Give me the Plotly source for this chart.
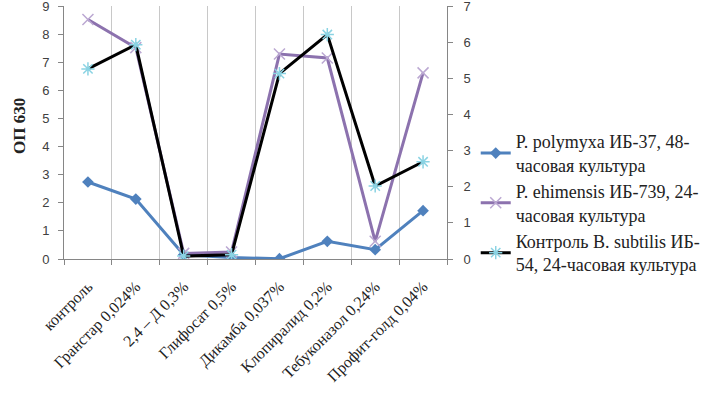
import plotly.graph_objects as go

categories = ["контроль", "Гранстар 0,024%", "2,4 – Д 0,3%", "Глифосат 0,5%",
              "Дикамба 0,037%", "Клопиралид 0,2%", "Тебуконазол 0,24%", "Профит-голд 0,04%"]

# left axis (ОП 630)
polymyxa = [2.74, 2.13, 0.15, 0.05, 0.01, 0.63, 0.33, 1.72]
ehimensis = [8.52, 7.52, 0.20, 0.25, 7.29, 7.15, 0.63, 6.62]
# right (secondary) axis
control = [5.26, 5.93, 0.08, 0.12, 5.13, 6.21, 2.02, 2.69]

names = ["P. polymyxa ИБ-37, 48-<br>часовая культура",
         "P. ehimensis ИБ-739, 24-<br>часовая культура",
         "Контроль B. subtilis ИБ-<br>54, 24-часовая культура"]

left_ticks = list(range(0, 10))
right_ticks = list(range(0, 8))

SERIF = "Liberation Serif"

fig = go.Figure()
fig.add_trace(go.Scatter(x=categories, y=polymyxa, name=names[0], mode="lines+markers",
                         line=dict(color="#4F81BD", width=3),
                         marker=dict(symbol="diamond", size=9, color="#4F81BD")))
fig.add_trace(go.Scatter(x=categories, y=ehimensis, name=names[1], mode="lines+markers",
                         line=dict(color="#8C72AE", width=3),
                         marker=dict(symbol="x-thin-open", size=11, color="#BBA8D2",
                                     line=dict(color="#BBA8D2", width=1.5))))
fig.add_trace(go.Scatter(x=categories, y=control, name=names[2], mode="lines+markers",
                         yaxis="y2",
                         line=dict(color="#000000", width=3),
                         marker=dict(symbol="asterisk-open", size=11, color="#8AD3E3",
                                     line=dict(color="#8AD3E3", width=1.5))))

axis_font = dict(family="Liberation Sans", size=13, color="#404040")
fig.update_layout(
    width=719, height=395,
    margin=dict(l=64, r=272, t=6, b=136, autoexpand=False),
    paper_bgcolor="white", plot_bgcolor="white",
    showlegend=True,
    legend=dict(x=1.075, xanchor="left", y=0.537, yanchor="top",
                font=dict(family=SERIF, size=18, color="#222222"),
                bgcolor="rgba(0,0,0,0)", itemwidth=30, tracegroupgap=6),
    xaxis=dict(type="category", categoryorder="array", categoryarray=categories,
               range=[-0.5, 7.5], tickson="boundaries", automargin=False,
               showgrid=True, gridcolor="#C8C8C8", gridwidth=1,
               showline=True, linecolor="#868686", linewidth=1,
               ticks="outside", ticklen=5, tickcolor="#868686",
               tickangle=-45, ticklabelstandoff=11,
               tickfont=dict(family=SERIF, size=16, color="#222222"),
               zeroline=False),
    yaxis=dict(range=[0, 9], tickvals=left_ticks, ticktext=[str(v) for v in left_ticks],
               showgrid=False, zeroline=False, automargin=False,
               showline=True, linecolor="#868686", linewidth=1,
               ticks="outside", ticklen=5, tickcolor="#868686",
               tickfont=axis_font, ticklabelstandoff=6, ticklabeloverflow="allow"),
    yaxis2=dict(range=[0, 7], tickvals=right_ticks, ticktext=[str(v) for v in right_ticks],
                overlaying="y", side="right", automargin=False,
                showgrid=False, zeroline=False,
                showline=True, linecolor="#868686", linewidth=1,
                ticks="outside", ticklen=5, tickcolor="#868686",
                tickfont=axis_font, ticklabelstandoff=8, ticklabeloverflow="allow"),
)
fig.add_annotation(text="<b>ОП 630</b>", xref="paper", yref="paper", x=0, y=0.5,
                   xshift=-56, yshift=6, textangle=-90, showarrow=False,
                   font=dict(family=SERIF, size=17, color="#222222"))

fig.write_html("out.html", config={"displayModeBar": False},
               post_script="document.body.style.margin='0';")
